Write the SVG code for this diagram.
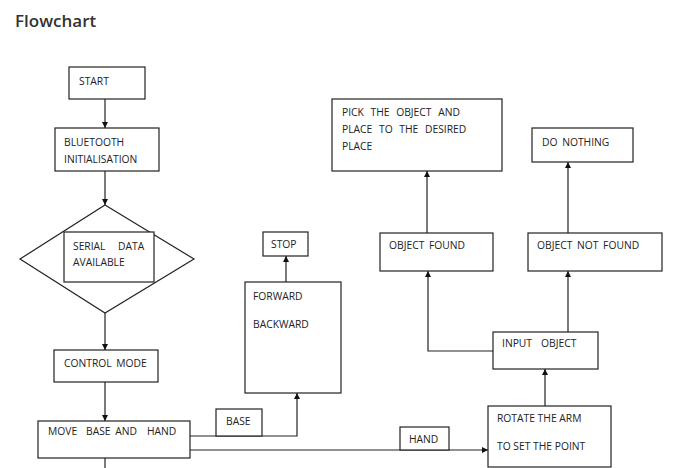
<svg xmlns="http://www.w3.org/2000/svg" width="680" height="468" viewBox="0 0 680 468">
<defs>
<style>
.box{fill:#fff;stroke:#222;stroke-width:1.2}
.t{font-family:"Open Sans","Liberation Sans",sans-serif;font-size:10.3px;fill:#222;word-spacing:2px}
.c{fill:none;stroke:#222;stroke-width:1.2}
.title{font-family:"Open Sans","Liberation Sans",sans-serif;font-size:17px;font-weight:600;fill:#333}
</style>
<marker id="ah" viewBox="0 0 10 10" refX="10" refY="5" markerWidth="6" markerHeight="6" markerUnits="userSpaceOnUse" orient="auto">
<path d="M0,0 L10,5 L0,10 z" fill="#111"/>
</marker>
</defs>
<rect width="680" height="468" fill="#fff"/>
<text class="title" x="15" y="27">Flowchart</text>
<g id="connectors">
<path class="c" d="M105,99 V128" marker-end="url(#ah)"/>
<path class="c" d="M105,171 V205" marker-end="url(#ah)"/>
<path class="c" d="M105,313 V350" marker-end="url(#ah)"/>
<path class="c" d="M105,382 V421" marker-end="url(#ah)"/>
<path class="c" d="M105,458 V468"/>
<path class="c" d="M190,436 H297 V393" marker-end="url(#ah)"/>
<path class="c" d="M190,450 H488" marker-end="url(#ah)"/>
<path class="c" d="M286,282 V256" marker-end="url(#ah)"/>
<path class="c" d="M545,406 V369" marker-end="url(#ah)"/>
<path class="c" d="M493,351 H428 V271" marker-end="url(#ah)"/>
<path class="c" d="M568,332 V271" marker-end="url(#ah)"/>
<path class="c" d="M427,233 V171" marker-end="url(#ah)"/>
<path class="c" d="M568,233 V162" marker-end="url(#ah)"/>
</g>
<g id="start"><rect class="box" x="69" y="67" width="76" height="32"/><text class="t" x="79" y="85">START</text></g>
<g id="bluetooth"><rect class="box" x="55" y="128" width="104" height="43"/><text class="t" x="64" y="146">BLUETOOTH</text><text class="t" x="64" y="163">INITIALISATION</text></g>
<g id="serial">
<polygon class="box" points="105,205 194,259 105,313 20,259"/>
<rect class="box" x="64" y="232" width="90" height="50"/>
<text class="t" x="73" y="250">SERIAL<tspan x="118">DATA</tspan></text>
<text class="t" x="73" y="266">AVAILABLE</text>
</g>
<g id="control"><rect class="box" x="54" y="350" width="104" height="32"/><text class="t" x="64" y="367">CONTROL MODE</text></g>
<g id="move"><rect class="box" x="38" y="421" width="152" height="37"/><text class="t" x="48" y="435">MOVE<tspan x="86">BASE AND</tspan><tspan x="147">HAND</tspan></text></g>
<g id="base"><rect class="box" x="216" y="409" width="46" height="27"/><text class="t" x="226" y="425">BASE</text></g>
<g id="forward"><rect class="box" x="245" y="282" width="96" height="111"/><text class="t" x="253" y="300">FORWARD</text><text class="t" x="253" y="328">BACKWARD</text></g>
<g id="stop"><rect class="box" x="263" y="232" width="45" height="24"/><text class="t" x="271" y="248">STOP</text></g>
<g id="hand"><rect class="box" x="400" y="427" width="49" height="23"/><text class="t" x="409" y="443">HAND</text></g>
<g id="rotate"><rect class="box" x="488" y="406" width="123" height="61"/><text class="t" x="497" y="422" style="word-spacing:0">ROTATE THE ARM</text><text class="t" x="497" y="450" style="word-spacing:0">TO SET THE POINT</text></g>
<g id="input"><rect class="box" x="493" y="332" width="105" height="37"/><text class="t" x="502" y="347">INPUT<tspan x="541">OBJECT</tspan></text></g>
<g id="found"><rect class="box" x="380" y="233" width="113" height="38"/><text class="t" x="389" y="249">OBJECT FOUND</text></g>
<g id="notfound"><rect class="box" x="528" y="233" width="134" height="38"/><text class="t" x="537" y="249">OBJECT NOT FOUND</text></g>
<g id="pick"><rect class="box" x="332" y="99" width="170" height="72"/><text class="t" x="342" y="116" style="word-spacing:4px">PICK THE OBJECT AND</text><text class="t" x="342" y="133" style="word-spacing:4px">PLACE TO THE DESIRED</text><text class="t" x="342" y="150">PLACE</text></g>
<g id="donothing"><rect class="box" x="532" y="128" width="101" height="34"/><text class="t" x="542" y="146">DO NOTHING</text></g>
</svg>
